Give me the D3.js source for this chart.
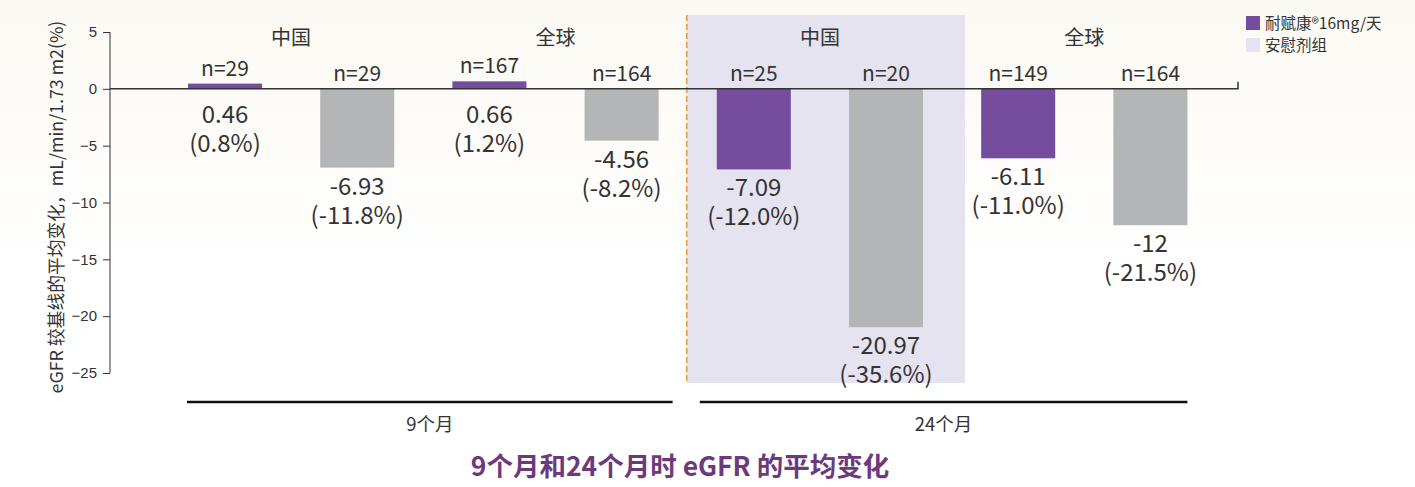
<html>
  <head>
    <meta charset="utf-8" />
    <script src="https://cdnjs.cloudflare.com/ajax/libs/d3/7.8.5/d3.min.js"></script>
    <style>
      body { margin: 0; }
      svg { font-family: "Noto Sans CJK SC", "Noto Sans", sans-serif; }
      .tick text { font-size: 15px; fill: #333; }
      .tick line, path.domain { stroke: #333; }
    </style>
  </head>
  <body>
    <svg width="1415" height="487"></svg>
  </body>
  <script>
    // data
    const bars = ["cn9d", "cn9p", "gl9d", "gl9p", "cn24d", "cn24p", "gl24d", "gl24p"];
    const values = [0.46, -6.93, 0.66, -4.56, -7.09, -20.97, -6.11, -12];
    const pcts = ["(0.8%)", "(-11.8%)", "(1.2%)", "(-8.2%)", "(-12.0%)", "(-35.6%)", "(-11.0%)", "(-21.5%)"];
    const valueLabels = ["0.46", "-6.93", "0.66", "-4.56", "-7.09", "-20.97", "-6.11", "-12"];
    const nLabels = ["n=29", "n=29", "n=167", "n=164", "n=25", "n=20", "n=149", "n=164"];
    const isDrug = [true, false, true, false, true, false, true, false];
    const regions = ["中国", "全球", "中国", "全球"];
    const periods = ["9个月", "24个月"];
    const yTicks = [5, 0, -5, -10, -15, -20, -25];
    const legendItems = ["耐赋康®16mg/天", "安慰剂组"];

    const purple = "#764c9f";
    const grey = "#b4b5b7";
    const shade = "#e5e3ef";

    const svg = d3.select("svg");

    const defs = svg.append("defs");
    const grad = defs.append("linearGradient").attr("id", "bg").attr("x1", 0).attr("x2", 0).attr("y1", 0).attr("y2", 1);
    grad.append("stop").attr("offset", "0%").attr("stop-color", "#fbf9f3");
    grad.append("stop").attr("offset", "55%").attr("stop-color", "#ffffff");
    svg.append("rect").attr("width", 1415).attr("height", 487).attr("fill", "url(#bg)");

    const y = d3.scaleLinear().domain([-25, 5]).range([373, 32]);
    const x = d3.scaleBand().domain(bars).range([110, 1265.4]).paddingInner(0.44).paddingOuter(0.59);

    // shaded 24-month China block
    const shadeX0 = x("cn24d") - 30;
    const shadeX1 = x("cn24p") + x.bandwidth() + 42;
    svg.append("rect")
      .attr("x", shadeX0).attr("y", 15)
      .attr("width", shadeX1 - shadeX0).attr("height", 368)
      .attr("fill", shade);
    svg.append("line")
      .attr("x1", shadeX0).attr("x2", shadeX0).attr("y1", 15).attr("y2", 383)
      .attr("stroke", "#e59c3c").attr("stroke-width", 1.5)
      .attr("stroke-dasharray", "6,3");

    // y axis
    const yAxis = d3.axisLeft(y).tickValues(yTicks).tickSize(7).tickPadding(6);
    svg.append("g").attr("transform", "translate(110,0)").call(yAxis)
      .call(g => g.select(".domain").attr("d", "M0," + y(5) + "V" + y(-25)));

    svg.append("text")
      .attr("transform", "translate(63,207) rotate(-90)")
      .attr("text-anchor", "middle")
      .attr("font-size", 17.8).attr("fill", "#333")
      .text("eGFR 较基线的平均变化，mL/min/1.73 m2(%)");

    // bars
    svg.selectAll("rect.bar")
      .data(bars)
      .enter()
      .append("rect")
      .attr("class", "bar")
      .attr("x", d => x(d))
      .attr("width", x.bandwidth())
      .attr("y", (d, i) => y(Math.max(0, values[i])))
      .attr("height", (d, i) => Math.abs(y(values[i]) - y(0)))
      .attr("fill", (d, i) => isDrug[i] ? purple : grey);

    // zero line
    svg.append("path")
      .attr("d", "M110," + y(0) + "H1238V" + (y(0) - 7))
      .attr("fill", "none").attr("stroke", "#333").attr("stroke-width", 1.5);

    // n labels
    svg.selectAll("text.n")
      .data(bars)
      .enter()
      .append("text")
      .attr("x", d => x(d) + x.bandwidth() / 2)
      .attr("y", (d, i) => y(Math.max(0, values[i])) - 8)
      .attr("text-anchor", "middle")
      .attr("font-size", 21).attr("fill", "#333")
      .text((d, i) => nLabels[i]);

    // value labels, two lines each
    const tx = d => x(d) + x.bandwidth() / 2;
    const vTop = (d, i) => values[i] > 0 ? y(0) + 34 : y(values[i]) + 27;
    svg.selectAll("text.v")
      .data(bars)
      .enter()
      .append("text")
      .attr("class", "v")
      .attr("x", tx).attr("y", vTop)
      .attr("text-anchor", "middle")
      .attr("font-size", 24).attr("fill", "#333")
      .text((d, i) => valueLabels[i]);
    svg.selectAll("text.p")
      .data(bars)
      .enter()
      .append("text")
      .attr("class", "p")
      .attr("x", tx).attr("y", (d, i) => vTop(d, i) + 29)
      .attr("text-anchor", "middle")
      .attr("font-size", 24).attr("fill", "#333")
      .text((d, i) => pcts[i]);

    // region labels
    svg.selectAll("text.r")
      .data(regions)
      .enter()
      .append("text")
      .attr("x", (d, i) => (x(bars[i * 2]) + x(bars[i * 2 + 1]) + x.bandwidth()) / 2)
      .attr("y", 45)
      .attr("text-anchor", "middle")
      .attr("font-size", 20).attr("fill", "#333")
      .text(d => d);

    // period brackets
    periods.forEach((p, i) => {
      const x0 = i === 0 ? x(bars[0]) - 1 : x(bars[4]) - 17;
      const x1 = i === 0 ? x(bars[3]) + x.bandwidth() + 14 : x(bars[7]) + x.bandwidth();
      svg.append("line")
        .attr("x1", x0).attr("x2", x1).attr("y1", 402).attr("y2", 402)
        .attr("stroke", "#111").attr("stroke-width", 2.5);
      svg.append("text")
        .attr("x", (x0 + x1) / 2).attr("y", 431)
        .attr("text-anchor", "middle")
        .attr("font-size", 18.5).attr("fill", "#333")
        .text(p);
    });

    // legend
    const lg = svg.append("g").attr("transform", "translate(1246,16)");
    legendItems.forEach((t, i) => {
      lg.append("rect").attr("x", 0).attr("y", i * 22).attr("width", 14).attr("height", 14)
        .attr("fill", i === 0 ? purple : shade);
      lg.append("text").attr("x", 19).attr("y", i * 22 + 13)
        .attr("font-size", 15.5).attr("fill", "#333").text(t);
    });

    // title
    svg.append("text")
      .attr("x", 680).attr("y", 476)
      .attr("text-anchor", "middle")
      .attr("font-size", 26.5).attr("font-weight", "bold").attr("fill", "#6c3a7c")
      .text("9个月和24个月时 eGFR 的平均变化");
  </script>
</html>
